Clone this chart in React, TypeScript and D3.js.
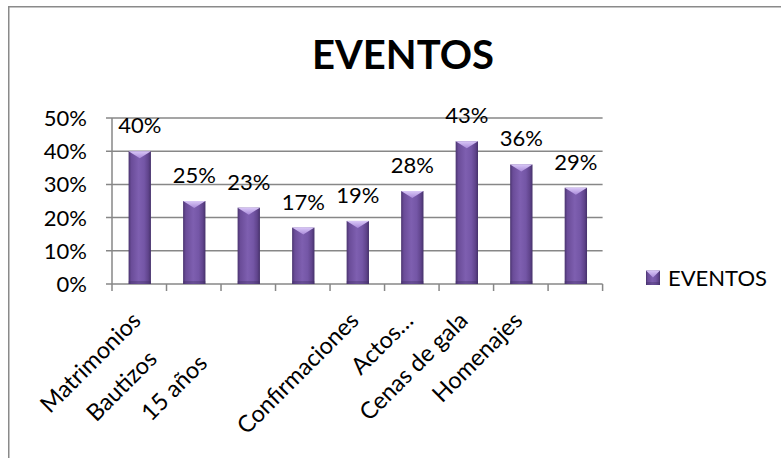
import React from "react";
import * as d3 from "d3";

const title = "EVENTOS";
const seriesName = "EVENTOS";
const categories = [
  "Matrimonios",
  "Bautizos         ",
  "15 años          ",
  "",
  "Confirmaciones",
  "Actos…",
  "Cenas de gala",
  "Homenajes",
  "",
];
const values = [0.4, 0.25, 0.23, 0.17, 0.19, 0.28, 0.43, 0.36, 0.29];
const yTicks = [0, 0.1, 0.2, 0.3, 0.4, 0.5];

const W = 781;
const H = 458;
const plot = { left: 112, right: 602.6, top: 118, bottom: 284 };
const FONT = "Lato, 'Open Sans', sans-serif";

export default function App() {
  const idx = categories.map((_, i) => String(i));
  const x = d3.scaleBand<string>().domain(idx).range([plot.left, plot.right]).padding(0);
  const y = d3.scaleLinear().domain([0, 0.5]).range([plot.bottom, plot.top]);
  const bw = x.bandwidth() * 0.41;
  const fmt = d3.format(".0%");
  const gridColor = "#878787";

  const barShape = (cx: number, top: number, w: number, bottom: number, key: string) => {
    const l = cx - w / 2;
    const r = cx + w / 2;
    const bev = Math.min(7, (bottom - top) / 2);
    return (
      <g key={key}>
        <rect x={l} y={top} width={w} height={bottom - top} fill="url(#barGrad)" />
        <polygon points={`${l},${top} ${r},${top} ${cx},${top + bev}`} fill="url(#bevelGrad)" />
        <rect x={l} y={bottom - 3} width={w} height={3} fill="#3f2d63" opacity={0.35} />
      </g>
    );
  };

  return (
    <svg
      width={W}
      height={H}
      style={{ position: "absolute", left: 0, top: 0, background: "#fff" }}
      fontFamily={FONT}
    >
      <defs>
        <linearGradient id="barGrad" x1="0" x2="1" y1="0" y2="0">
          <stop offset="0%" stopColor="#4a346f" />
          <stop offset="12%" stopColor="#6a4c98" />
          <stop offset="45%" stopColor="#7e5fb0" />
          <stop offset="70%" stopColor="#7456a6" />
          <stop offset="88%" stopColor="#60448c" />
          <stop offset="100%" stopColor="#45316a" />
        </linearGradient>
        <linearGradient id="bevelGrad" x1="0" x2="0" y1="0" y2="1">
          <stop offset="0%" stopColor="#d9c8f7" />
          <stop offset="100%" stopColor="#a98ad9" />
        </linearGradient>
      </defs>

      <rect x={0} y={0} width={W} height={H} fill="#fff" />
      <path d={`M8.75,${H} V6.75 H${W}`} fill="none" stroke="#8a8a8a" strokeWidth={1.5} />

      <text x={403} y={69} textAnchor="middle" fontSize={40} fontWeight={700} fill="#000">
        {title}
      </text>

      {yTicks.map((t) => (
        <g key={t}>
          <line x1={plot.left - 6} x2={plot.right} y1={y(t)} y2={y(t)} stroke={gridColor} strokeWidth={1.5} />
          <text x={87} y={y(t) + 8} textAnchor="end" fontSize={22} fill="#000">
            {fmt(t)}
          </text>
        </g>
      ))}

      <line x1={plot.left} x2={plot.left} y1={plot.top} y2={plot.bottom + 7} stroke={gridColor} strokeWidth={1.5} />
      {idx.map((d) => (
        <line
          key={"t" + d}
          x1={(x(d) as number) + x.bandwidth()}
          x2={(x(d) as number) + x.bandwidth()}
          y1={plot.bottom}
          y2={plot.bottom + 7}
          stroke={gridColor}
          strokeWidth={1.5}
        />
      ))}

      {values.map((v, i) => {
        const cx = (x(String(i)) as number) + x.bandwidth() / 2 + 0.5;
        return barShape(cx, y(v), bw, y(0), "b" + i);
      })}

      {values.map((v, i) => {
        const cx = (x(String(i)) as number) + x.bandwidth() / 2 + 0.5;
        return (
          <text key={"l" + i} x={cx} y={y(v) - 18} textAnchor="middle" fontSize={22} fill="#000">
            {fmt(v)}
          </text>
        );
      })}

      {categories.map((c, i) => {
        const cx = (x(String(i)) as number) + x.bandwidth() / 2;
        return (
          <text
            key={"c" + i}
            transform={`translate(${cx + 3},${plot.bottom + 38}) rotate(-45)`}
            textAnchor="end"
            fontSize={23.5}
            fill="#000"
            style={{ whiteSpace: "pre" }}
          >
            {c}
          </text>
        );
      })}

      <g>
        {barShape(653, 270.5, 14, 285, "legend")}
        <text x={668} y={285.5} fontSize={22} fill="#000">
          {seriesName}
        </text>
      </g>
    </svg>
  );
}
